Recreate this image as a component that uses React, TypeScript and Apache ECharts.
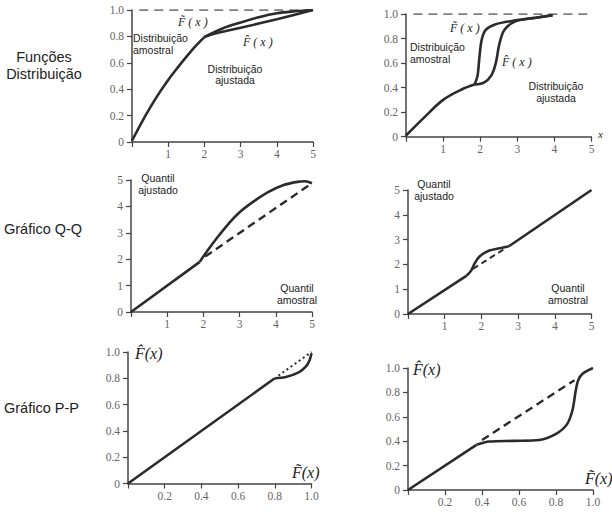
import React, { useEffect, useRef } from 'react';
import * as echarts from 'echarts';

// Panel 1 – distribution functions (left)
const p1Common = [[0, 0.01], [0.25, 0.14], [0.5, 0.26], [0.75, 0.37], [1, 0.47], [1.25, 0.56], [1.5, 0.645], [1.75, 0.725], [2, 0.795]];
const p1Sample = [[2, 0.795], [2.5, 0.86], [3, 0.905], [3.5, 0.945], [4, 0.975], [4.5, 0.99], [5, 1]];
const p1Fitted = [[2, 0.795], [2.2, 0.815], [3, 0.865], [4, 0.93], [5, 1]];
const p1Ref = [[0.2, 1], [5, 1]];

// Panel 2 – distribution functions (right)
const p2Common = [[0, 0.01], [0.5, 0.16], [1, 0.3], [1.5, 0.385], [1.85, 0.425]];
const p2Sample = [[1.85, 0.425], [1.93, 0.5], [1.98, 0.65], [2.04, 0.79], [2.15, 0.87], [2.4, 0.915], [3, 0.95], [3.5, 0.97], [3.95, 0.99]];
const p2Fitted = [[1.85, 0.425], [2.1, 0.44], [2.3, 0.5], [2.42, 0.6], [2.52, 0.76], [2.65, 0.87], [2.95, 0.94], [3.5, 0.97], [3.95, 0.99]];
const p2Ref = [[0.2, 1], [4.95, 1]];

// Panel 3 – Q-Q (left)
const p3Line = [[0, 0], [1.9, 1.9]];
const p3Curve = [[1.9, 1.9], [2.1, 2.3], [2.4, 2.85], [2.7, 3.35], [3, 3.78], [3.4, 4.2], [3.8, 4.55], [4.2, 4.8], [4.6, 4.93], [4.8, 4.95], [5, 4.88]];
const p3Ref = [[2.05, 2.1], [5, 4.88]];

// Panel 4 – Q-Q (right)
const p4LineA = [[0, 0], [1.6, 1.55]];
const p4Bump = [[1.6, 1.55], [1.72, 1.75], [1.82, 2.05], [1.95, 2.32], [2.2, 2.55], [2.5, 2.65], [2.75, 2.73]];
const p4LineB = [[2.75, 2.73], [5, 5]];
const p4Ref = [[1.77, 1.82], [2.6, 2.6]];

// Panel 5 – P-P (left)
const p5Line = [[0, 0], [0.8, 0.8]];
const p5Curve = [[0.8, 0.8], [0.86, 0.81], [0.93, 0.845], [0.97, 0.89], [0.99, 0.94], [1, 0.99]];
const p5Ref = [[0.82, 0.82], [1, 1]];

// Panel 6 – P-P (right)
const p6Line = [[0, 0], [0.37, 0.37]];
const p6Curve = [[0.37, 0.37], [0.44, 0.397], [0.57, 0.403], [0.71, 0.41], [0.8, 0.46], [0.86, 0.54], [0.89, 0.66], [0.905, 0.8], [0.92, 0.9], [0.945, 0.955], [1, 1]];
const p6Ref = [[0.4, 0.41], [0.9, 0.9]];

const INK = '#2b2b2b';
const AXIS = '#444';
const LABEL = '#666';
const SERIF = '"Liberation Serif", "DejaVu Serif", serif';
const SANS = '"Liberation Sans", Arial, sans-serif';

export default function App() {
  const ref = useRef<HTMLDivElement>(null);
  useEffect(() => {
    document.body.style.margin = '0';
    const chart = echarts.init(ref.current!, null, { renderer: 'svg' });

    const grids = [
      { left: 132, top: 10, width: 181, height: 132 },
      { left: 406, top: 14, width: 185.5, height: 122.7 },
      { left: 131, top: 180, width: 181, height: 132 },
      { left: 408, top: 190, width: 183.5, height: 124 },
      { left: 128, top: 352, width: 183.5, height: 131.5 },
      { left: 408, top: 368, width: 185, height: 122 },
    ];

    const isProbX = [false, false, false, false, true, true];
    const isProbY = [true, true, false, false, true, true];

    const fmtX = (prob: boolean) => (v: number) => (v === 0 ? '' : prob ? v.toFixed(1) : String(v));
    const fmtY = (prob: boolean) => (v: number) => (v === 0 ? '0' : prob ? v.toFixed(1) : String(v));

    const axisCommon = {
      type: 'value' as const,
      axisLine: { show: true, lineStyle: { color: AXIS, width: 1.5 } },
      axisTick: { show: true, length: 5, lineStyle: { color: AXIS, width: 1.2 } },
      splitLine: { show: false },
    };

    const xAxis = grids.map((_, i) => ({
      ...axisCommon,
      gridIndex: i,
      min: 0,
      max: isProbX[i] ? 1 : 5,
      interval: isProbX[i] ? 0.2 : 1,
      axisLabel: {
        formatter: fmtX(isProbX[i]),
        fontFamily: SERIF,
        fontSize: 11.5,
        color: LABEL,
        margin: 6,
      },
    }));
    const yAxis = grids.map((_, i) => ({
      ...axisCommon,
      gridIndex: i,
      min: 0,
      max: isProbY[i] ? 1 : 5,
      interval: isProbY[i] ? 0.2 : 1,
      axisLabel: {
        formatter: fmtY(isProbY[i]),
        fontFamily: SERIF,
        fontSize: 11.5,
        color: LABEL,
        margin: 8,
      },
    }));

    const line = (g: number, data: number[][], smooth: number | boolean, opts: any = {}) => ({
      type: 'line',
      xAxisIndex: g,
      yAxisIndex: g,
      data,
      smooth,
      symbol: 'none',
      showSymbol: false,
      silent: true,
      lineStyle: { color: INK, width: 2.6, ...opts },
      z: opts.z ?? 3,
    });

    const series = [
      line(0, p1Ref, false, { color: '#555', width: 1.4, type: [9, 6], z: 1 }),
      line(0, p1Common, 0.35),
      line(0, p1Sample, 0.35),
      line(0, p1Fitted, 0.35),

      line(1, p2Ref, false, { color: '#555', width: 1.4, type: [9, 6], z: 1 }),
      line(1, p2Common, 0.35),
      line(1, p2Sample, 0.3),
      line(1, p2Fitted, 0.3),

      line(2, p3Line, false),
      line(2, p3Curve, 0.35),
      line(2, p3Ref, false, { type: [8, 5], width: 2.4 }),

      line(3, p4LineA, false),
      line(3, p4Bump, 0.35),
      line(3, p4LineB, false),
      line(3, p4Ref, false, { type: [6, 4], width: 2 }),

      line(4, p5Line, false),
      line(4, p5Curve, 0.35),
      line(4, p5Ref, false, { type: [2, 3], width: 2 }),

      line(5, p6Line, false),
      line(5, p6Curve, 0.3),
      line(5, p6Ref, false, { type: [8, 5], width: 2.4 }),
    ];

    const txt = (x: number, y: number, text: string, font: string, align = 'left', fill = '#222') => ({
      type: 'text',
      x,
      y,
      silent: true,
      style: { text, font, fill, textAlign: align, textVerticalAlign: 'middle' },
    });

    const sans = `10.5px ${SANS}`;
    const side = `14.5px ${SANS}`;
    const fSmall = `italic 12px ${SERIF}`;
    const fBig = `italic 16px ${SERIF}`;

    const graphic = [
      txt(44, 57, 'Funções', side, 'center'),
      txt(44, 74, 'Distribuição', side, 'center'),
      txt(4, 229, 'Gráfico Q-Q', side, 'left'),
      txt(4, 408, 'Gráfico P-P', side, 'left'),

      txt(178, 22, 'F\u0303 ( x )', fSmall),
      txt(243, 42, 'F\u0302 ( x )', fSmall),
      txt(133, 38, 'Distribuição', sans),
      txt(133, 50, 'amostral', sans),
      txt(235, 69, 'Distribuição', sans, 'center'),
      txt(235, 80, 'ajustada', sans, 'center'),

      txt(450, 28, 'F\u0303 ( x )', fSmall),
      txt(502, 62, 'F\u0302 ( x )', fSmall),
      txt(410, 47, 'Distribuição', sans),
      txt(410, 59, 'amostral', sans),
      txt(556, 86, 'Distribuição', sans, 'center'),
      txt(556, 98, 'ajustada', sans, 'center'),
      txt(598, 134, 'x', `italic 11px ${SERIF}`),

      txt(158, 178, 'Quantil', sans, 'center'),
      txt(158, 190, 'ajustado', sans, 'center'),
      txt(297, 288, 'Quantil', sans, 'center'),
      txt(297, 300, 'amostral', sans, 'center'),

      txt(434, 184, 'Quantil', sans, 'center'),
      txt(434, 196, 'ajustado', sans, 'center'),
      txt(568, 288, 'Quantil', sans, 'center'),
      txt(568, 300, 'amostral', sans, 'center'),

      txt(135, 353, 'F\u0302(x)', fBig),
      txt(292, 472, 'F\u0303(x)', fBig),
      txt(413, 369, 'F\u0302(x)', fBig),
      txt(585, 478, 'F\u0303(x)', fBig),
    ];

    chart.setOption({
      animation: false,
      backgroundColor: '#fff',
      grid: grids,
      xAxis,
      yAxis,
      series,
      graphic,
    });
    return () => chart.dispose();
  }, []);

  return <div ref={ref} style={{ width: 612, height: 527 }} />;
}
